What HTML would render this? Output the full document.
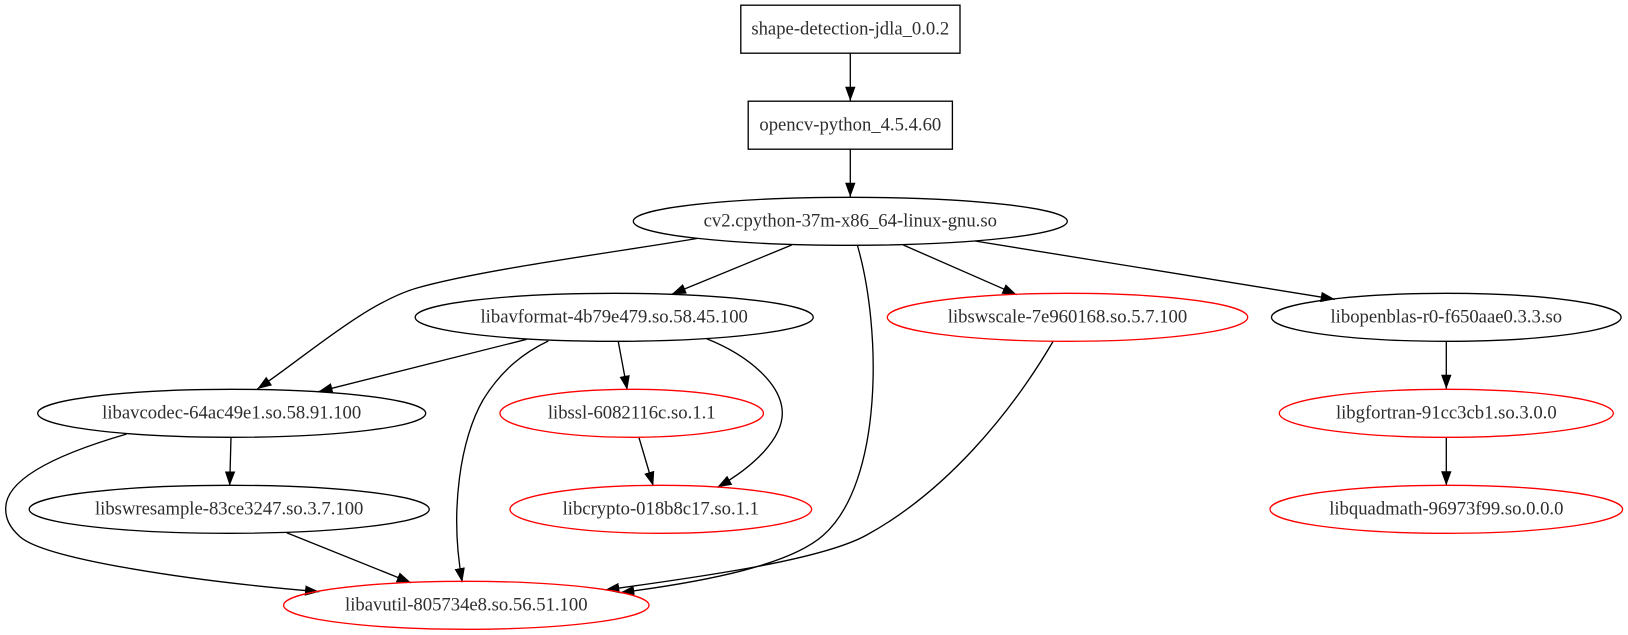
<!DOCTYPE html>
<html>
<head>
<meta charset="utf-8">
<style>
html,body{margin:0;padding:0;background:#fff;}
svg{display:block;}
text{font-family:"Liberation Serif",serif;font-size:18.67px;text-anchor:middle;fill:#2e2e2e;}
.n{fill:none;stroke:#000;stroke-width:1.33;}
.r{fill:none;stroke:#f00;stroke-width:1.33;}
.e{fill:none;stroke:#000;stroke-width:1.33;marker-end:url(#a);}
</style>
</head>
<body>
<svg width="1628" height="635" viewBox="0 0 1628 635" xmlns="http://www.w3.org/2000/svg">
<defs>
<marker id="a" markerUnits="userSpaceOnUse" markerWidth="15" markerHeight="11" viewBox="0 0 15 11" refX="14.3" refY="5.5" orient="auto">
<polygon points="0,0.3 14.3,5.5 0,10.7" fill="#000"/>
</marker>
</defs>

<!-- edges -->
<path class="e" d="M850.3,53 L850.3,101"/>
<path class="e" d="M850.3,149 L850.3,197"/>
<path class="e" d="M697,238.5 C610,253 480,270 417,288 C365,303 305,357 257.3,389"/>
<path class="e" d="M791.7,245 L671.7,294.3"/>
<path class="e" d="M857.3,245 C882,330 883,483 823,535.5 C790,564.4 710,581 620,592.7"/>
<path class="e" d="M903.3,245 L1016.7,294.7"/>
<path class="e" d="M975,241 L1335,299.3"/>
<path class="e" d="M526.7,339.3 L318.3,391.7"/>
<path class="e" d="M548.3,341 C525,352 502,369 483,400 C461,438 449,510 462.3,582.3"/>
<path class="e" d="M618.3,341.7 L627.3,390"/>
<path class="e" d="M706.7,338.7 C750,356 782,385 782.3,413 C782.5,438 755,466 717.3,487.3"/>
<path class="e" d="M639,437.7 L653.3,486"/>
<path class="e" d="M231,437.3 L229.7,485.7"/>
<path class="e" d="M126.7,434 C75,449 6,474 5.7,508 C5.5,518 9,527 20,536.7 C45,559 190,581 319.3,591.7"/>
<path class="e" d="M286.7,532.7 L411,582.7"/>
<path class="e" d="M1053.3,341 C1010,415 945,492 866.7,535 C822,560 700,577 605,590"/>
<path class="e" d="M1446.3,341.5 L1446.3,389"/>
<path class="e" d="M1446.3,437.5 L1446.3,485.5"/>

<!-- nodes -->
<rect class="n" x="740.8" y="5.2" width="219.2" height="48"/>
<text x="850.3" y="34.5">shape-detection-jdla_0.0.2</text>

<rect class="n" x="748.2" y="101.2" width="204.2" height="48"/>
<text x="850.3" y="130.5">opencv-python_4.5.4.60</text>

<ellipse class="n" cx="850.3" cy="221.3" rx="217" ry="24"/>
<text x="850.3" y="226.5">cv2.cpython-37m-x86_64-linux-gnu.so</text>

<ellipse class="n" cx="614.2" cy="317.3" rx="199" ry="24"/>
<text x="614.2" y="322.5">libavformat-4b79e479.so.58.45.100</text>

<ellipse class="r" cx="1067.5" cy="317.3" rx="180.2" ry="24"/>
<text x="1067.5" y="322.5">libswscale-7e960168.so.5.7.100</text>

<ellipse class="n" cx="1446.3" cy="317.3" rx="174.8" ry="24"/>
<text x="1446.3" y="322.5">libopenblas-r0-f650aae0.3.3.so</text>

<ellipse class="n" cx="231.7" cy="413.3" rx="194" ry="24"/>
<text x="231.7" y="418.5">libavcodec-64ac49e1.so.58.91.100</text>

<ellipse class="r" cx="631.7" cy="413.3" rx="131.7" ry="24"/>
<text x="631.7" y="418.5">libssl-6082116c.so.1.1</text>

<ellipse class="r" cx="1446.3" cy="413.3" rx="167" ry="24"/>
<text x="1446.3" y="418.5">libgfortran-91cc3cb1.so.3.0.0</text>

<ellipse class="n" cx="229.2" cy="509.3" rx="200" ry="24"/>
<text x="229.2" y="514.5">libswresample-83ce3247.so.3.7.100</text>

<ellipse class="r" cx="660.8" cy="509.3" rx="150.8" ry="24"/>
<text x="660.8" y="514.5">libcrypto-018b8c17.so.1.1</text>

<ellipse class="r" cx="1446.3" cy="509.3" rx="176.3" ry="24"/>
<text x="1446.3" y="514.5">libquadmath-96973f99.so.0.0.0</text>

<ellipse class="r" cx="466.3" cy="605.3" rx="182.7" ry="24"/>
<text x="466.3" y="610.5">libavutil-805734e8.so.56.51.100</text>
</svg>
</body>
</html>
